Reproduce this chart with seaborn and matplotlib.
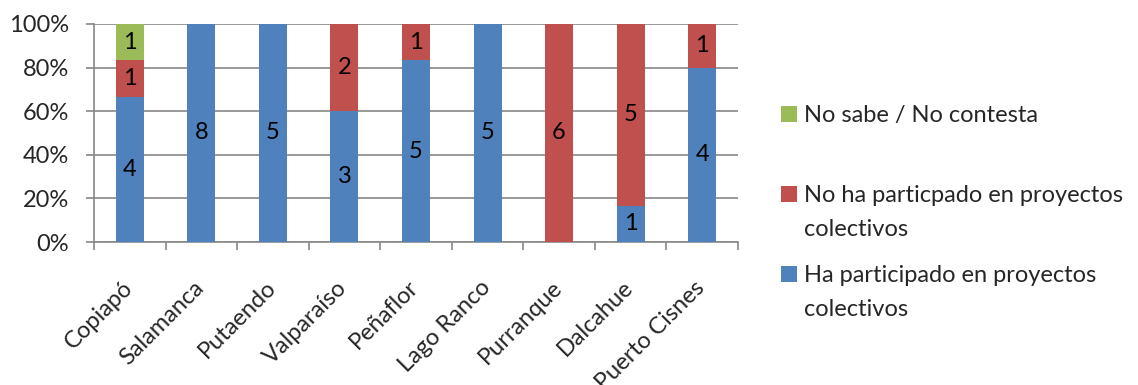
import numpy as np
import pandas as pd
import matplotlib
matplotlib.use("Agg")
import matplotlib.pyplot as plt
import matplotlib.transforms as mtransforms
import seaborn as sns
from matplotlib.patches import Patch
from matplotlib.ticker import FixedLocator, PercentFormatter

comunas = ["Copiapó", "Salamanca", "Putaendo", "Valparaíso", "Peñaflor",
           "Lago Ranco", "Purranque", "Dalcahue", "Puerto Cisnes"]
ha_participado = [4, 8, 5, 3, 5, 5, 0, 1, 4]
no_ha_participado = [1, 0, 0, 2, 1, 0, 6, 5, 1]
no_sabe = [1, 0, 0, 0, 0, 0, 0, 0, 0]

# legend text: first line next to the swatch, optional continuation line
legend_first = ["No sabe / No contesta",
                "No ha particpado en proyectos",
                "Ha participado en proyectos"]
legend_second = ["", "colectivos", "colectivos"]
legend_colors = ["#9BBB59", "#C0504D", "#4F81BD"]
colors = {"ha": "#4F81BD", "no": "#C0504D", "ns": "#9BBB59"}

FS = 17

sns.set_theme(style="white")
plt.rcParams["font.family"] = ["Lato", "DejaVu Sans"]

counts = pd.DataFrame({"comuna": comunas, "ha": ha_participado,
                       "no": no_ha_participado, "ns": no_sabe})
total = counts[["ha", "no", "ns"]].sum(axis=1)
pct = counts[["ha", "no", "ns"]].div(total, axis=0) * 100
cum = pct.cumsum(axis=1)
cum["comuna"] = comunas

fig = plt.figure(figsize=(11.38, 3.85), dpi=100)
ax = fig.add_axes([0.0826, 0.3714, 0.5659, 0.5663])

# stacked look: draw cumulative totals from the top layer down
for col in ["ns", "no", "ha"]:
    sns.barplot(data=cum, x="comuna", y=col, color=colors[col], width=0.39,
                linewidth=0, saturation=1, ax=ax, zorder=3)

# segment count labels
for i in range(len(comunas)):
    base = 0
    for key in ["ha", "no", "ns"]:
        n = counts.loc[i, key]
        h = pct.loc[i, key]
        if n > 0:
            ax.text(i, base + h / 2, str(n), ha="center", va="center",
                    fontsize=FS, color="black", zorder=4)
        base += h

ax.set_ylim(0, 100)
ax.set_xlim(-0.5, len(comunas) - 0.5)
ax.yaxis.set_major_locator(FixedLocator([0, 20, 40, 60, 80, 100]))
ax.yaxis.set_major_formatter(PercentFormatter(decimals=0))
ax.grid(axis="y", color="#888888", linewidth=1.2, zorder=0)
ax.set_axisbelow(True)
ax.set_xlabel("")
ax.set_ylabel("")

for side in ["top", "right"]:
    ax.spines[side].set_visible(False)
for side in ["left", "bottom"]:
    ax.spines[side].set_color("#888888")
    ax.spines[side].set_linewidth(1.2)

ax.tick_params(axis="y", which="major", length=6, width=1.2, color="#888888",
               direction="out", labelsize=FS, pad=12, left=True)
ax.set_xticks(range(len(comunas)))
ax.set_xticklabels(comunas, rotation=45, ha="right", rotation_mode="anchor",
                   fontsize=FS)
ax.tick_params(axis="x", which="major", length=0, pad=25)
ax.set_xticks(np.arange(-0.5, len(comunas)), minor=True)
ax.tick_params(axis="x", which="minor", length=6, width=1.2, color="#888888",
               direction="out", bottom=True)
shift = mtransforms.ScaledTranslation(-8 / 100, 0, fig.dpi_scale_trans)
for lbl in ax.get_xticklabels():
    lbl.set_transform(lbl.get_transform() + shift)

handles = [Patch(facecolor=c, edgecolor="none") for c in legend_colors]
leg = fig.legend(handles, legend_first, loc="upper left",
                 bbox_to_anchor=(0.686, 0.727), frameon=False, fontsize=FS,
                 handlelength=0.7, handleheight=0.7, handletextpad=0.3,
                 labelspacing=2.5, borderaxespad=0, borderpad=0)

fig.canvas.draw()
inv = fig.transFigure.inverted()
for txt, extra in zip(leg.get_texts(), legend_second):
    if extra:
        bb = txt.get_window_extent()
        x0, y0 = inv.transform((bb.x0, bb.y0 - 34))
        fig.text(x0, y0, extra, fontsize=FS, ha="left", va="bottom")

fig.savefig("out.png", dpi=100)
